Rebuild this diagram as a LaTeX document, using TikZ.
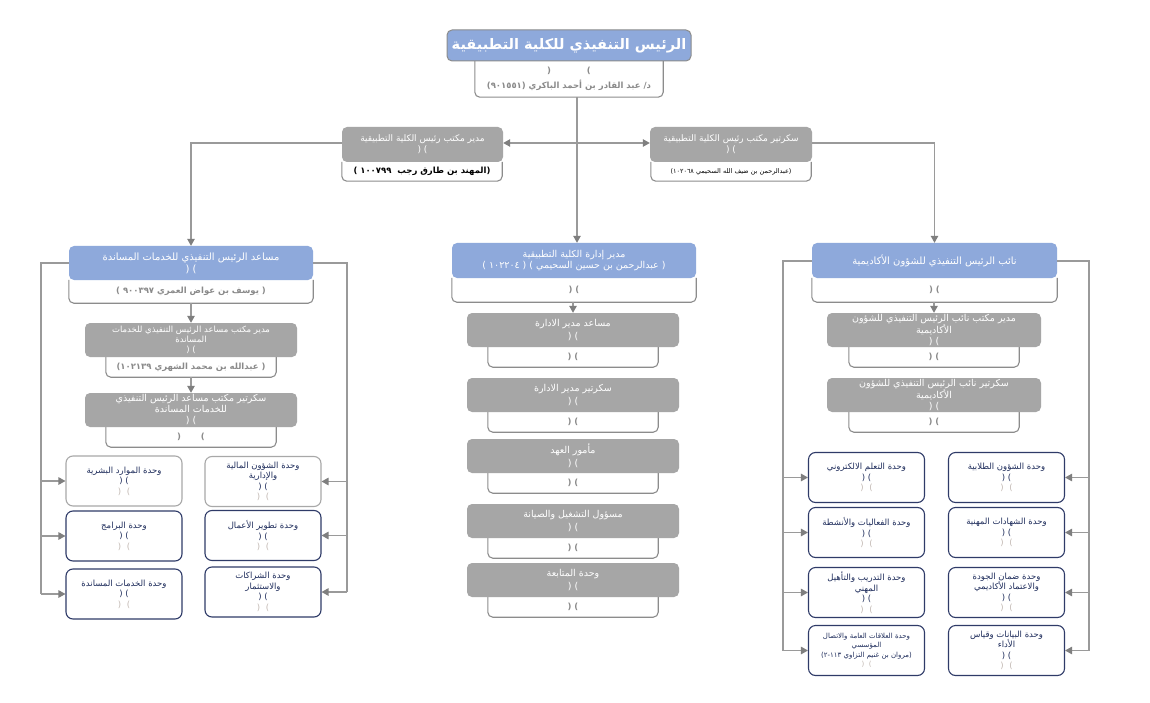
\documentclass[tikz,border=0pt]{standalone}
\usepackage{fontspec}
\setmainfont{DejaVu Sans}
\newfontfamily\arabicfont[Script=Arabic]{DejaVu Sans}
\TeXXeTstate=1
\usetikzlibrary{arrows.meta}
\newcommand\AR[1]{\beginR #1\endR}
\definecolor{blueC}{HTML}{8EA9DB}
\definecolor{grayC}{HTML}{A6A6A6}
\definecolor{boxC}{HTML}{8C8C8C}
\definecolor{lineC}{HTML}{9A9A9A}
\definecolor{arrC}{HTML}{7F7F7F}
\definecolor{navyC}{HTML}{2F3B68}
\definecolor{navyT}{HTML}{1F2D5C}
\definecolor{lightC}{HTML}{A8A8A8}
\definecolor{txtG}{HTML}{8A8A8A}
\definecolor{parC}{HTML}{C2B8B2}
\tikzset{
  lin/.style={draw=lineC, line width=1.2pt},
  arr/.style={draw=lineC, line width=1.2pt, -{Triangle[length=7pt,width=7.5pt,color=arrC]}},
  bluebox/.style={fill=blueC, rounded corners=5pt, text=white, align=center, inner sep=0pt,
    font=\arabicfont\fontsize{10}{12}\selectfont},
  graybox/.style={fill=grayC, rounded corners=5pt, text=white, align=center, inner sep=0pt,
    font=\arabicfont\fontsize{9}{11}\selectfont},
  wtext/.style={inner sep=0pt, align=center, text=txtG, font=\arabicfont\bfseries\fontsize{8.5}{10}\selectfont},
  wline/.style={draw=boxC, line width=1.1pt, rounded corners=5pt},
  unitN/.style={draw=navyC, fill=white, line width=1.1pt, rounded corners=7pt, minimum width=116pt,
    minimum height=50pt, inner sep=0pt, align=center, text=navyT,
    font=\arabicfont\fontsize{8.5}{10.5}\selectfont},
  unitL/.style={unitN, draw=lightC},
}
\newcommand\lp{{\color{parC}( \,\,)}}
\begin{document}
\begin{tikzpicture}[x=1pt,y=-1pt]
\useasboundingbox[fill=white] (0,0) rectangle (1150,703);

% ---------- top ----------
\node[wtext, minimum width=188pt, minimum height=36pt, font=\arabicfont\bfseries\fontsize{8.5}{15}\selectfont] (W0) at (569,79)
  {( \hspace{30pt} )\\ \AR{د/ عبد القادر بن أحمد الباكري (٩٠١٥٥١)}};
\draw[wline] (W0.north west) -- (W0.south west) -- (W0.south east) -- (W0.north east);
\node[bluebox, draw=boxC, line width=1pt, minimum width=244pt, minimum height=31pt,
  font=\arabicfont\bfseries\fontsize{14.5}{16}\selectfont] (T0) at (569,45.5)
  {\AR{الرئيس التنفيذي للكلية التطبيقية}};

% ---------- office boxes ----------
\node[wtext, minimum width=160pt, minimum height=19pt, text=black, font=\arabicfont\bfseries\fontsize{8.5}{10}\selectfont] (W1) at (422,171.5)
  {\AR{(المهند بن طارق رجب \ ١٠٠٧٩٩ )}};
\draw[wline] (W1.north west) -- (W1.south west) -- (W1.south east) -- (W1.north east);
\node[graybox, minimum width=161pt, minimum height=35pt] (L1) at (422.5,144.5)
  {\AR{مدير مكتب رئيس الكلية التطبيقية}\\( )};

\node[wtext, minimum width=160pt, minimum height=19pt, text=black, font=\arabicfont\fontsize{6.5}{8}\selectfont] (W2) at (731,171.5)
  {\AR{(عبدالرحمن بن ضيف الله السحيمي ١٠٢٠٦٨)}};
\draw[wline] (W2.north west) -- (W2.south west) -- (W2.south east) -- (W2.north east);
\node[graybox, minimum width=162pt, minimum height=35pt] (R1) at (731,144.5)
  {\AR{سكرتير مكتب رئيس الكلية التطبيقية}\\( )};

% ---------- left group ----------
\node[wtext, minimum width=244pt, minimum height=23pt] (LBw) at (191,291.5)
  {\AR{( يوسف بن عواض العمري ٩٠٠٣٩٧ )}};
\draw[wline] (LBw.north west) -- (LBw.south west) -- (LBw.south east) -- (LBw.north east);
\node[bluebox, minimum width=244pt, minimum height=34pt] (LB) at (191,263)
  {\AR{مساعد الرئيس التنفيذي للخدمات المساندة}\\( )};

\node[wtext, minimum width=170pt, minimum height=20pt] (LG1w) at (191,367)
  {\AR{( عبدالله بن محمد الشهري ١٠٢١٣٩)}};
\draw[wline] (LG1w.north west) -- (LG1w.south west) -- (LG1w.south east) -- (LG1w.north east);
\node[graybox, minimum width=212pt, minimum height=34pt, font=\arabicfont\fontsize{8.5}{10}\selectfont] (LG1) at (191,340)
  {\AR{مدير مكتب مساعد الرئيس التنفيذي للخدمات}\\\AR{المساندة}\\( )};

\node[wtext, minimum width=170pt, minimum height=20pt] (LG2w) at (191,437) {( \hspace{14pt} )};
\draw[wline] (LG2w.north west) -- (LG2w.south west) -- (LG2w.south east) -- (LG2w.north east);
\node[graybox, minimum width=212pt, minimum height=34pt, font=\arabicfont\fontsize{9.5}{11}\selectfont] (LG2) at (191,410)
  {\AR{سكرتير مكتب مساعد الرئيس التنفيذي}\\\AR{للخدمات المساندة}\\( )};

\node[unitL] (UA1) at (124,481) {\AR{وحدة الموارد البشرية}\\( )\\\lp};
\node[unitN] (UA2) at (124,536) {\AR{وحدة البرامج}\\( )\\\lp};
\node[unitN] (UA3) at (124,594) {\AR{وحدة الخدمات المساندة}\\( )\\\lp};
\node[unitL] (UB1) at (263,481.5) {\AR{وحدة الشؤون المالية}\\\AR{والإدارية}\\( )\\\lp};
\node[unitN] (UB2) at (263,535.5) {\AR{وحدة تطوير الأعمال}\\( )\\\lp};
\node[unitN] (UB3) at (263,592) {\AR{وحدة الشراكات}\\\AR{والاستثمار}\\( )\\\lp};

% ---------- middle group ----------
\node[wtext, minimum width=244pt, minimum height=24pt] (MBw) at (574,290) {( )};
\draw[wline] (MBw.north west) -- (MBw.south west) -- (MBw.south east) -- (MBw.north east);
\node[bluebox, minimum width=244pt, minimum height=35pt, font=\arabicfont\fontsize{9.5}{11.5}\selectfont] (MB) at (574,260.5)
  {\AR{مدير إدارة الكلية التطبيقية}\\\AR{( عبدالرحمن بن حسين السحيمي ) ( ١٠٢٢٠٤ )}};

\foreach \n/\y/\t in {M1/330/مساعد مدير الادارة, M2/395/سكرتير مدير الادارة, M3/456/مأمور العهد, M4/521/مسؤول التشغيل والصيانة, M5/580/وحدة المتابعة}{
  \node[wtext, minimum width=170pt, minimum height=20pt] (\n w) at (573,\y+27) {( )};
  \draw[wline] (\n w.north west) -- (\n w.south west) -- (\n w.south east) -- (\n w.north east);
  \node[graybox, minimum width=212pt, minimum height=34pt, font=\arabicfont\fontsize{9.5}{13}\selectfont] (\n) at (573,\y)
    {\AR{\t}\\( )};
}

% ---------- right group ----------
\node[wtext, minimum width=245pt, minimum height=24pt] (RBw) at (934.5,290) {( )};
\draw[wline] (RBw.north west) -- (RBw.south west) -- (RBw.south east) -- (RBw.north east);
\node[bluebox, minimum width=245pt, minimum height=35pt] (RB) at (934.5,260.5)
  {\AR{نائب الرئيس التنفيذي للشؤون الأكاديمية}};

\node[wtext, minimum width=170pt, minimum height=20pt] (RG1w) at (934,357) {( )};
\draw[wline] (RG1w.north west) -- (RG1w.south west) -- (RG1w.south east) -- (RG1w.north east);
\node[graybox, minimum width=214pt, minimum height=34pt, font=\arabicfont\fontsize{9.5}{10.5}\selectfont] (RG1) at (934,330)
  {\AR{مدير مكتب نائب الرئيس التنفيذي للشؤون}\\\AR{الأكاديمية}\\( )};
\node[wtext, minimum width=170pt, minimum height=20pt] (RG2w) at (934,422) {( )};
\draw[wline] (RG2w.north west) -- (RG2w.south west) -- (RG2w.south east) -- (RG2w.north east);
\node[graybox, minimum width=214pt, minimum height=34pt, font=\arabicfont\fontsize{9.5}{10.5}\selectfont] (RG2) at (934,395)
  {\AR{سكرتير نائب الرئيس التنفيذي للشؤون}\\\AR{الأكاديمية}\\( )};

\node[unitN] (UC1) at (866.5,477.5) {\AR{وحدة التعلم الالكتروني}\\( )\\\lp};
\node[unitN] (UC2) at (866.5,532.5) {\AR{وحدة الفعاليات والأنشطة}\\( )\\\lp};
\node[unitN] (UC3) at (866.5,592.5) {\AR{وحدة التدريب والتأهيل}\\\AR{المهني}\\( )\\\lp};
\node[unitN, font=\arabicfont\fontsize{7}{9.5}\selectfont] (UC4) at (866.5,650.5)
  {\AR{وحدة العلاقات العامة والاتصال}\\\AR{المؤسسي}\\\AR{(مروان بن غنيم التزاوي ١١٣-٢)}\\\lp};
\node[unitN] (UD1) at (1006.5,477.5) {\AR{وحدة الشؤون الطلابية}\\( )\\\lp};
\node[unitN] (UD2) at (1006.5,532.5) {\AR{وحدة الشهادات المهنية}\\( )\\\lp};
\node[unitN] (UD3) at (1006.5,592.5) {\AR{وحدة ضمان الجودة}\\\AR{والاعتماد الأكاديمي}\\( )\\\lp};
\node[unitN] (UD4) at (1006.5,650.5) {\AR{وحدة البيانات وقياس}\\\AR{الأداء}\\( )\\\lp};

% ---------- connectors ----------
\coordinate (J) at (577,143);
\draw[arr] (J |- W0.south) -- (J |- MB.north);
\draw[arr] (J) -- (J -| L1.east);
\draw[arr] (J) -- (J -| R1.west);
\draw[arr] (J -| L1.west) -| (LB.north);
\draw[arr] (J -| R1.east) -| (RB.north);
\draw[arr] (LBw.south) -- (LG1.north);
\draw[arr] (LG1w.south) -- (LG2.north);
\draw[arr] (MBw.south -| M1.north) -- (M1.north);
\draw[arr] (RBw.south -| RG1.north) -- (RG1.north);

\coordinate (LT) at (41,263);
\coordinate (RT) at (347,263);
\draw[lin] (LB.west) -- (LT) -- (LT |- UA3.west);
\draw[lin] (LB.east) -- (RT) -- (RT |- UB3.east);
\foreach \u in {UA1,UA2,UA3} \draw[arr] (LT |- \u.west) -- (\u.west);
\foreach \u in {UB1,UB2,UB3} \draw[arr] (RT |- \u.east) -- (\u.east);

\coordinate (LT2) at (783,261);
\coordinate (RT2) at (1089,261);
\draw[lin] (RB.west |- LT2) -- (LT2) -- (LT2 |- UC4.west);
\draw[lin] (RB.east |- RT2) -- (RT2) -- (RT2 |- UD4.east);
\foreach \u in {UC1,UC2,UC3,UC4} \draw[arr] (LT2 |- \u.west) -- (\u.west);
\foreach \u in {UD1,UD2,UD3,UD4} \draw[arr] (RT2 |- \u.east) -- (\u.east);
\end{tikzpicture}
\end{document}
